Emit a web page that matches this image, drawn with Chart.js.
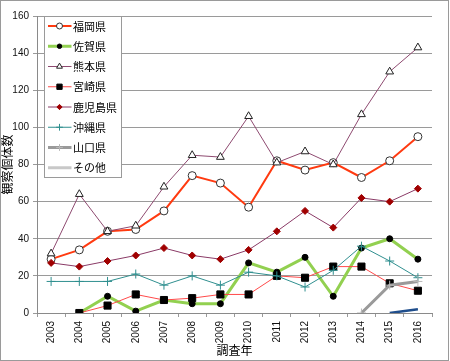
<!DOCTYPE html>
<html>
<head>
<meta charset="utf-8">
<script src="https://cdn.jsdelivr.net/npm/chart.js@4/dist/chart.umd.min.js"></script>
<style>
html,body{margin:0;padding:0;background:#fff;}
canvas{display:block;}
</style>
</head>
<body>
<canvas id="c" width="450" height="361"></canvas>
<script>
const years = ['2003','2004','2005','2006','2007','2008','2009','2010','2011','2012','2013','2014','2015','2016'];
const fukuoka   = [29,34,44,45,55,74,70,57,82,77,81,73,82,95];
const saga      = [null,0,9,1,7,5,5,27,22,30,9,35,40,29];
const kumamoto  = [32,64,44,47,68,85,84,106,81,87,80,107,130,143];
const miyazaki  = [null,0,4,10,7,8,10,10,20,19,25,25,16,12];
const kagoshima = [27,25,28,31,35,31,29,34,44,55,46,62,60,67];
const okinawa   = [17,17,17,21,15,20,15,22,20,14,23,36,28,19];
const yamaguchi = [null,null,null,null,null,null,null,null,null,null,null,0,15,17];
const sonota    = [null,null,null,null,null,null,null,null,null,null,null,null,null,null];
const extra     = [null,null,null,null,null,null,null,null,null,null,null,null,0,2];
const yMin = 0, yMax = 160, yStep = 20;

const seriesNames = ['福岡県','佐賀県','熊本県','宮崎県','鹿児島県','沖縄県','山口県','その他'];

const datasets = [
  {label: seriesNames[0], data: fukuoka, borderColor:'#ff3a10', borderWidth:2,
   pointStyle:'circle', pointRadius:4, pointBackgroundColor:'#fff', pointBorderColor:'#333', pointBorderWidth:1},
  {label: seriesNames[1], data: saga, borderColor:'#92d050', borderWidth:3,
   pointStyle:'circle', pointRadius:3, pointBackgroundColor:'#000', pointBorderColor:'#000', pointBorderWidth:1},
  {label: seriesNames[2], data: kumamoto, borderColor:'#8e4a70', borderWidth:1,
   pointStyle:'triangle', pointRadius:4.5, pointBackgroundColor:'#fff', pointBorderColor:'#222', pointBorderWidth:1},
  {label: seriesNames[3], data: miyazaki, borderColor:'#ff4a4a', borderWidth:1,
   pointStyle:'rect', pointRadius:5, pointBackgroundColor:'#000', pointBorderColor:'#000', pointBorderWidth:1},
  {label: seriesNames[4], data: kagoshima, borderColor:'#8a3a66', borderWidth:1,
   pointStyle:'rectRot', pointRadius:3.5, pointBackgroundColor:'#a00000', pointBorderColor:'#a00000', pointBorderWidth:1},
  {label: seriesNames[5], data: okinawa, borderColor:'#2f8f8f', borderWidth:1,
   pointStyle:'cross', pointRadius:4.5, pointBackgroundColor:'#2f8f8f', pointBorderColor:'#2f8f8f', pointBorderWidth:1},
  {label: seriesNames[6], data: yamaguchi, borderColor:'#9a9a9a', borderWidth:3,
   pointStyle:'cross', pointRadius:4.5, pointBackgroundColor:'#b0b0b0', pointBorderColor:'#b8b8b8', pointBorderWidth:1},
  {label: seriesNames[7], data: sonota, borderColor:'#c8c8c8', borderWidth:3,
   pointStyle:'circle', pointRadius:0, pointBorderWidth:0},
  {label: '', data: extra, borderColor:'#1f4e8c', borderWidth:2.5, hideLegend:true,
   pointStyle:'circle', pointRadius:0, pointBorderWidth:0}
];
datasets.forEach((d,i)=>{ d.order = 20 - i; d.fill = false; d.tension = 0; d.spanGaps = false; d.pointHoverRadius = d.pointRadius; });

const framePlugin = {
  id:'frame',
  afterDraw(chart){
    const ctx = chart.ctx;
    ctx.save();
    ctx.strokeStyle = '#9a9a9a';
    ctx.lineWidth = 1;
    ctx.strokeRect(0.5,0.5,448,360);
    ctx.restore();
  }
};

const legendPlugin = {
  id:'boxLegend',
  afterDatasetsDraw(chart){
    const ctx = chart.ctx;
    const ca = chart.chartArea;
    const bx = Math.round(ca.left) + 7.5, by = Math.round(ca.top) + 0.5, bw = 77, bh = 161;
    ctx.save();
    ctx.fillStyle = '#fff';
    ctx.fillRect(bx, by, bw, bh);
    ctx.strokeStyle = '#9a9a9a';
    ctx.lineWidth = 1;
    ctx.strokeRect(bx, by, bw, bh);
    ctx.font = '11px "Noto Sans CJK JP"';
    ctx.textBaseline = 'middle';
    ctx.textAlign = 'left';
    let k = 0;
    chart.data.datasets.forEach((ds) => {
      if (ds.hideLegend) return;
      const y = by + 9.5 + k * 20.25;
      k++;
      ctx.strokeStyle = ds.borderColor;
      ctx.lineWidth = ds.borderWidth;
      ctx.beginPath();
      ctx.moveTo(bx + 3.5, y);
      ctx.lineTo(bx + 27, y);
      ctx.stroke();
      if (ds.pointRadius > 0) {
        ctx.fillStyle = ds.pointBackgroundColor;
        ctx.strokeStyle = ds.pointBorderColor;
        ctx.lineWidth = ds.pointBorderWidth;
        Chart.helpers.drawPoint(ctx, {pointStyle: ds.pointStyle, radius: ds.pointRadius * 0.75, borderWidth: ds.pointBorderWidth, rotation: 0}, bx + 15, y);
      }
      ctx.fillStyle = '#000';
      ctx.fillText(ds.label, bx + 28.5, y + 0.5);
    });
    ctx.restore();
  }
};

new Chart(document.getElementById('c'), {
  type:'line',
  data:{labels: years, datasets: datasets},
  plugins:[legendPlugin, framePlugin],
  options:{
    responsive:false,
    animation:false,
    devicePixelRatio:1,
    layout:{padding:{top:16, right:18, left:0, bottom:0}},
    plugins:{legend:{display:false}, tooltip:{enabled:false}},
    scales:{
      x:{
        type:'category',
        offset:true,
        grid:{display:true, drawOnChartArea:false, drawTicks:true, tickLength:4, offset:true, color:'#9a9a9a'},
        border:{display:true, color:'#8a8a8a', width:1},
        ticks:{minRotation:90, maxRotation:90, padding:4, color:'#111', font:{family:'"Liberation Sans"', size:10}, autoSkip:false},
        title:{display:true, text:'調査年', color:'#000', font:{family:'"Noto Sans CJK JP"', size:12}, padding:{top:0, bottom:3}},
        afterFit(s){ s.height = 48; }
      },
      y:{
        min:yMin, max:yMax,
        ticks:{stepSize:yStep, padding:4, color:'#111', font:{family:'"Liberation Sans"', size:10}},
        grid:{color:'#9a9a9a', tickLength:4, drawTicks:true},
        border:{display:true, color:'#8a8a8a', width:1},
        title:{display:true, text:'観察個体数', color:'#000', font:{family:'"Noto Sans CJK JP"', size:12}, padding:{top:0, bottom:0}},
        afterFit(s){ s.width = 37; }
      }
    }
  }
});
</script>
</body>
</html>
